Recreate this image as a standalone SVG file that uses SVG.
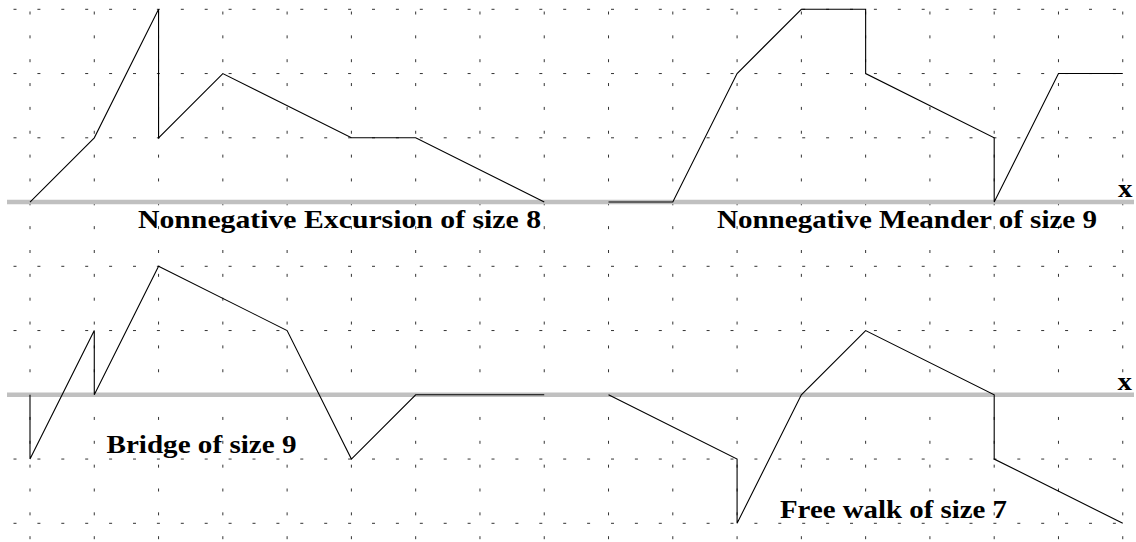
<svg xmlns="http://www.w3.org/2000/svg" width="1136" height="542" viewBox="0 0 1136 542">
<style>
.gh{stroke:#333;stroke-width:1;stroke-dasharray:3 20.9;fill:none}
.gv{stroke:#333;stroke-width:1;stroke-dasharray:3 20.85;fill:none}
.axis{stroke:#c0c0c0;stroke-width:4.5;fill:none}
.walk{stroke:#000;stroke-width:1.1;fill:none;stroke-linejoin:miter}
.lbl{font-family:"Liberation Serif","Times New Roman",serif;font-weight:bold;font-size:25px;fill:#000}
</style>
<rect width="1136" height="542" fill="#fff"/>
<g id="grid">
<path class="gh" d="M13.5 9.3H1136M13.5 73.55H1136M13.5 137.8H1136M13.5 202.05H1136M13.5 266.3H1136M13.5 330.55H1136M13.5 394.8H1136M13.5 459.05H1136M13.5 523.3H1136"/>
<path class="gv" d="M30 11.5V542M94.28 11.5V542M158.56 11.5V542M222.84 11.5V542M287.12 11.5V542M351.4 11.5V542M415.68 11.5V542M479.96 11.5V542M544.24 11.5V542M608.52 11.5V542M672.8 11.5V542M737.08 11.5V542M801.36 11.5V542M865.64 11.5V542M929.92 11.5V542M994.2 11.5V542M1058.48 11.5V542M1122.76 11.5V542"/>
</g>
<g id="axes">
<line class="axis" x1="7" y1="202.05" x2="1134" y2="202.05"/>
<line class="axis" x1="7" y1="394.8" x2="1134" y2="394.8"/>
<text class="lbl" x="1118" y="196.7" textLength="14.5" lengthAdjust="spacingAndGlyphs">x</text>
<text class="lbl" x="1117.5" y="390" textLength="14.5" lengthAdjust="spacingAndGlyphs">x</text>
</g>
<g id="connectors">
<polyline id="excursion-walk" class="walk" points="30,202.05 94.28,137.8 158.56,9.3 158.56,137.8 222.84,73.55 351.4,137.8 415.68,137.8 544.24,202.05"/>
<polyline id="meander-walk" class="walk" points="608.52,202.05 672.8,202.05 737.08,73.55 801.36,9.3 865.64,9.3 865.64,73.55 994.2,137.8 994.2,202.05 1058.48,73.55 1122.76,73.55"/>
<polyline id="bridge-walk" class="walk" points="30,394.8 30,459.05 94.28,330.55 94.28,394.8 158.56,266.3 287.12,330.55 351.4,459.05 415.68,394.8 544.24,394.8"/>
<polyline id="free-walk" class="walk" points="608.52,394.8 737.08,459.05 737.08,523.3 801.36,394.8 865.64,330.55 994.2,394.8 994.2,459.05 1122.76,523.3"/>
</g>
<g id="excursion-label"><text class="lbl" x="138" y="228.3" textLength="403" lengthAdjust="spacingAndGlyphs">Nonnegative Excursion of size 8</text></g>
<g id="meander-label"><text class="lbl" x="717" y="228.3" textLength="380" lengthAdjust="spacingAndGlyphs">Nonnegative Meander of size 9</text></g>
<g id="bridge-label"><text class="lbl" x="106.5" y="453.3" textLength="190" lengthAdjust="spacingAndGlyphs">Bridge of size 9</text></g>
<g id="free-label"><text class="lbl" x="780" y="518.3" textLength="227" lengthAdjust="spacingAndGlyphs">Free walk of size 7</text></g>
</svg>
